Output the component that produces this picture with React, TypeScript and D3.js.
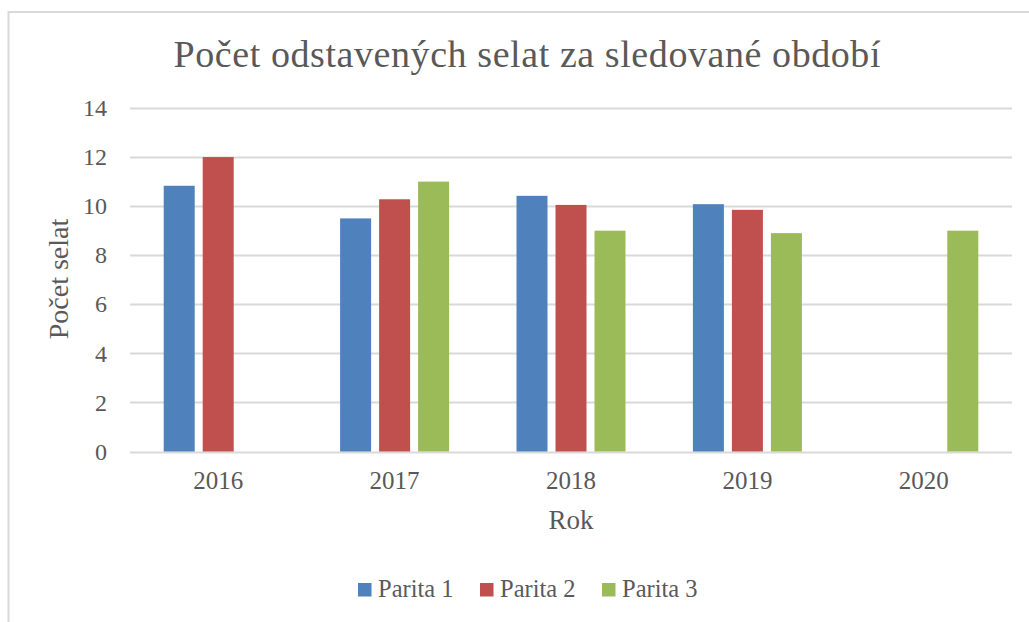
import React from "react";
import * as d3 from "d3";

const years = ["2016", "2017", "2018", "2019", "2020"];
const seriesNames = ["Parita 1", "Parita 2", "Parita 3"];
const parita1: (number | null)[] = [10.83, 9.5, 10.42, 10.08, null];
const parita2: (number | null)[] = [12.0, 10.28, 10.05, 9.85, null];
const parita3: (number | null)[] = [null, 11.0, 9.0, 8.9, 9.0];
const yTicks = [0, 2, 4, 6, 8, 10, 12, 14];
const colors = ["#4F81BD", "#C0504D", "#9BBB59"];

const W = 1029;
const H = 622;
const FONT = "'Liberation Serif', 'DejaVu Serif', serif";
const TXT = "#595959";

export default function App() {
  const seriesValues = [parita1, parita2, parita3];
  const x0 = d3.scaleBand<string>().domain(years).range([130, 1012]).padding(0);
  const bw = x0.bandwidth();
  const gOff = (bw - 109) / 2;
  const x1 = d3
    .scaleBand<string>()
    .domain(seriesNames)
    .range([gOff, bw - gOff])
    .paddingInner(8 / 39)
    .paddingOuter(0);
  const y = d3.scaleLinear().domain([0, 14]).range([451.5, 108]);

  return (
    <svg
      width={W}
      height={H}
      style={{ position: "absolute", left: 0, top: 0, background: "#fff" }}
    >
      <rect x={0} y={0} width={W} height={H} fill="#fff" />
      <path d={`M8.5,${H} V12 H${W}`} fill="none" stroke="#D9D9D9" strokeWidth={2} />
      <text
        x={527}
        y={67}
        textAnchor="middle"
        fontFamily={FONT}
        fontSize={38}
        textLength={707}
        lengthAdjust="spacing"
        fill={TXT}
      >
        Počet odstavených selat za sledované období
      </text>
      {yTicks.map((t) => (
        <g key={t}>
          <line
            x1={130}
            x2={1012}
            y1={Math.round(y(t)) + 0.5}
            y2={Math.round(y(t)) + 0.5}
            stroke="#D9D9D9"
            strokeWidth={2}
          />
          <text
            x={107}
            y={y(t)}
            dy="0.34em"
            textAnchor="end"
            fontFamily={FONT}
            fontSize={24}
            fill={TXT}
          >
            {t}
          </text>
        </g>
      ))}
      {years.map((yr, i) => (
        <g key={yr} transform={`translate(${x0(yr)},0)`}>
          {seriesNames.map((s, j) => {
            const v = seriesValues[j][i];
            if (v == null) return null;
            return (
              <rect
                key={s}
                x={x1(s)}
                y={y(v)}
                width={x1.bandwidth()}
                height={y(0) - y(v)}
                fill={colors[j]}
              />
            );
          })}
          <text
            x={bw / 2}
            y={489}
            textAnchor="middle"
            fontFamily={FONT}
            fontSize={25}
            fill={TXT}
          >
            {yr}
          </text>
        </g>
      ))}
      <text
        x={571}
        y={529}
        textAnchor="middle"
        fontFamily={FONT}
        fontSize={27}
        fill={TXT}
      >
        Rok
      </text>
      <text
        transform={`translate(68,279) rotate(-90)`}
        textAnchor="middle"
        fontFamily={FONT}
        fontSize={28}
        fill={TXT}
      >
        Počet selat
      </text>
      {seriesNames.map((s, j) => {
        const lx = [358, 480, 602][j];
        return (
          <g key={s}>
            <rect x={lx} y={583} width={13.5} height={13.5} fill={colors[j]} />
            <text x={lx + 20} y={597} fontFamily={FONT} fontSize={24.5} fill={TXT}>
              {s}
            </text>
          </g>
        );
      })}
    </svg>
  );
}
